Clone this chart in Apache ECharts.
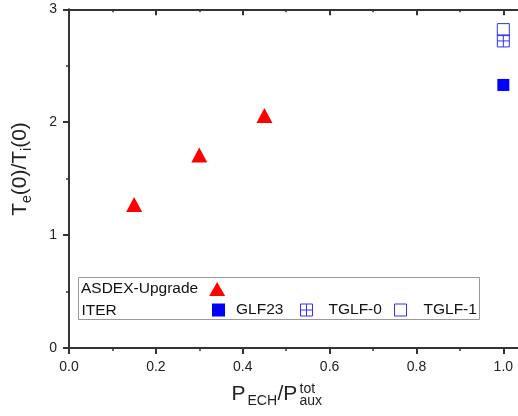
<!DOCTYPE html>
<html>
<head>
<meta charset="utf-8">
<script src="https://cdn.jsdelivr.net/npm/echarts@6/dist/echarts.min.js"></script>
<style>
  html, body { margin: 0; padding: 0; background: #fff; }
  #chart { width: 518px; height: 416px; }
</style>
</head>
<body>
<div id="chart"></div>
<script>
// Central temperature ratio vs. ECH fraction of auxiliary heating
const asdexX = [0.15, 0.30, 0.45];
const asdexY = [1.27, 1.71, 2.06];
const iterX = [1.0];
const glf23Y = [2.33];
const tglf0Y = [2.72];
const tglf1Y = [2.82];
const xTickStep = 0.2;
const yTickStep = 1;

const FONT = '"Liberation Sans", Arial, sans-serif';
const AXIS = '#333';
const BLUE = '#0000ff';
const HOLLOW = '#3030ff';
const RED = '#ff0000';

const pairs = (xs, ys) => ys.map((y, i) => [xs[i % xs.length], y]);

const crossSquare = 'path://M0,0H10V10H0ZM5,0V10M0,5H10';

const baseX = {
  type: 'value', min: 0, max: 1.2, interval: xTickStep,
  splitLine: { show: false },
  axisLine: { show: true, onZero: false, lineStyle: { color: AXIS, width: 2 } }
};

const option = {
  backgroundColor: '#fff',
  animation: false,
  grid: { left: 69, top: 9.3, width: 521.2, height: 338.7, outerBoundsMode: 'none', containLabel: false },
  xAxis: [
    Object.assign({}, baseX, {
      position: 'bottom',
      axisTick: { show: true, inside: false, length: 6, lineStyle: { color: AXIS, width: 2 } },
      minorTick: { show: true, splitNumber: 2, length: 3, lineStyle: { color: AXIS, width: 1.5 } },
      axisLabel: { show: true, margin: 12, fontSize: 14, color: '#222', fontFamily: FONT,
                   showMaxLabel: false, formatter: v => v.toFixed(1) }
    }),
    Object.assign({}, baseX, {
      position: 'top',
      axisTick: { show: true, inside: true, length: 6, lineStyle: { color: AXIS, width: 2 } },
      minorTick: { show: true, splitNumber: 2, length: 3, lineStyle: { color: AXIS, width: 1.5 } },
      axisLabel: { show: false }
    })
  ],
  yAxis: {
    type: 'value', min: 0, max: 3, interval: yTickStep,
    splitLine: { show: false },
    axisLine: { show: true, onZero: false, lineStyle: { color: AXIS, width: 2 } },
    axisTick: { show: true, inside: false, length: 6, lineStyle: { color: AXIS, width: 2 } },
    minorTick: { show: true, splitNumber: 2, length: 3, lineStyle: { color: AXIS, width: 1.5 } },
    axisLabel: { margin: 12, fontSize: 14, color: '#222', fontFamily: FONT }
  },
  legend: [
    {
      data: ['ASDEX-Upgrade'], left: 81, top: 281, padding: 0, align: 'right',
      itemWidth: 16, itemHeight: 14, selectedMode: false,
      itemStyle: { borderWidth: 0 },
      textStyle: { fontSize: 15.5, color: '#111', fontFamily: FONT, padding: [0, 6, 0, 0] }
    },
    {
      data: ['GLF23'], left: 212, top: 302, padding: 0,
      itemWidth: 13, itemHeight: 13, selectedMode: false,
      itemStyle: { borderWidth: 0 },
      textStyle: { fontSize: 15.5, color: '#111', fontFamily: FONT, padding: [0, 0, 0, 6] }
    },
    {
      data: ['TGLF-0'], left: 300, top: 302, padding: 0,
      itemWidth: 12, itemHeight: 12, selectedMode: false,
      itemStyle: { color: 'transparent', borderColor: HOLLOW, borderWidth: 1 },
      textStyle: { fontSize: 15.5, color: '#111', fontFamily: FONT, padding: [0, 0, 0, 11] }
    },
    {
      data: ['TGLF-1'], left: 394, top: 302, padding: 0,
      itemWidth: 12, itemHeight: 12, selectedMode: false,
      itemStyle: { color: 'transparent', borderColor: HOLLOW, borderWidth: 1 },
      textStyle: { fontSize: 15.5, color: '#111', fontFamily: FONT, padding: [0, 0, 0, 12] }
    }
  ],
  graphic: [
    {
      type: 'rect', z: 1, silent: true,
      shape: { x: 78.5, y: 277.5, width: 401, height: 42 },
      style: { fill: '#fff', stroke: '#999', lineWidth: 1 }
    },
    {
      type: 'text', z: 5, silent: true, x: 81.5, y: 310.5,
      style: { text: 'ITER', fontSize: 15.5, fill: '#111', fontFamily: FONT, verticalAlign: 'middle' }
    },
    // y-axis title: Te(0)/Ti(0)
    {
      type: 'text', silent: true, x: 20, y: 169, rotation: Math.PI / 2,
      style: {
        text: '{m|T}{s|e}{m|(0)/T}{s|i}{m|(0)}',
        align: 'center', verticalAlign: 'middle', fill: '#222', fontFamily: FONT,
        rich: {
          m: { fontSize: 21, fontFamily: FONT, fill: '#222' },
          s: { fontSize: 14, fontFamily: FONT, fill: '#222', padding: [15, 0, 0, 0] }
        }
      }
    },
    // x-axis title: P_ECH / P_aux^tot
    { type: 'text', silent: true, x: 231.5, y: 394.3,
      style: { text: 'P', fontSize: 21, fill: '#222', fontFamily: FONT, verticalAlign: 'middle' } },
    { type: 'text', silent: true, x: 247.5, y: 401,
      style: { text: 'ECH', fontSize: 14, fill: '#222', fontFamily: FONT, verticalAlign: 'middle' } },
    { type: 'text', silent: true, x: 277.5, y: 394.3,
      style: { text: '/P', fontSize: 21, fill: '#222', fontFamily: FONT, verticalAlign: 'middle' } },
    { type: 'text', silent: true, x: 299.5, y: 389,
      style: { text: 'tot', fontSize: 14, fill: '#222', fontFamily: FONT, verticalAlign: 'middle' } },
    { type: 'text', silent: true, x: 299.5, y: 401,
      style: { text: 'aux', fontSize: 14, fill: '#222', fontFamily: FONT, verticalAlign: 'middle' } }
  ],
  series: [
    {
      name: 'ASDEX-Upgrade', type: 'scatter', symbol: 'triangle', symbolSize: [16, 15],
      itemStyle: { color: RED, opacity: 1 },
      data: pairs(asdexX, asdexY)
    },
    {
      name: 'GLF23', type: 'scatter', symbol: 'rect', symbolSize: 12,
      itemStyle: { color: BLUE, opacity: 1 },
      data: pairs(iterX, glf23Y)
    },
    {
      name: 'TGLF-0', type: 'scatter', symbol: crossSquare, symbolSize: 12,
      itemStyle: { color: 'transparent', borderColor: HOLLOW, borderWidth: 1, opacity: 1 },
      data: pairs(iterX, tglf0Y)
    },
    {
      name: 'TGLF-1', type: 'scatter', symbol: 'rect', symbolSize: 12,
      itemStyle: { color: 'transparent', borderColor: HOLLOW, borderWidth: 1, opacity: 1 },
      data: pairs(iterX, tglf1Y)
    }
  ]
};

const chart = echarts.init(document.getElementById('chart'), null, { renderer: 'canvas' });
chart.setOption(option);
</script>
</body>
</html>
